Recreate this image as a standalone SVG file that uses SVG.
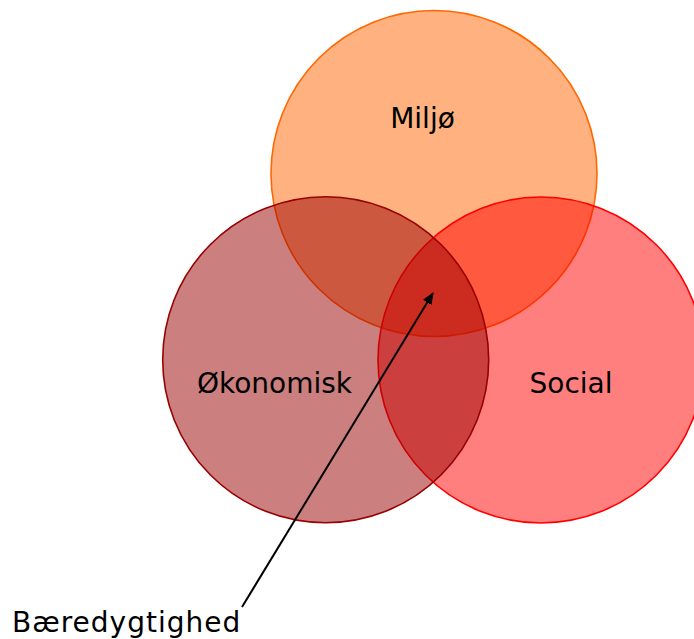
<svg xmlns="http://www.w3.org/2000/svg" width="694" height="639" viewBox="0 0 694 639">
<defs>
<style>
.lbl{font-family:"DejaVu Sans","Verdana",sans-serif;font-size:28px;fill:#000}
.c{stroke-width:1.6}
</style>
<marker id="ah" markerWidth="12" markerHeight="10" refX="11" refY="5" orient="auto" markerUnits="userSpaceOnUse">
<path d="M0,0 L12,5 L0,10 Z" fill="#000"/>
</marker>
</defs>
<rect width="694" height="639" fill="#fff"/>
<g id="miljo">
<circle class="c" cx="434" cy="173.5" r="163" fill="#FF6600" fill-opacity="0.5" stroke="#FF6600"/>
<text class="lbl" x="422.5" y="128" text-anchor="middle">Miljø</text>
</g>
<g id="social">
<circle class="c" cx="541" cy="360" r="163" fill="#FF0000" fill-opacity="0.5" stroke="#FF0000"/>
<text class="lbl" x="571" y="392.5" text-anchor="middle" font-size="27.5">Social</text>
</g>
<g id="okonomisk">
<circle class="c" cx="325.7" cy="359.7" r="163" fill="#990000" fill-opacity="0.5" stroke="#990000"/>
<text class="lbl" x="274.5" y="392.5" text-anchor="middle">Økonomisk</text>
</g>
<g id="connectors">
<line x1="242" y1="607" x2="433" y2="293" stroke="#000" stroke-width="2" marker-end="url(#ah)"/>
</g>
<g id="baeredygtighed">
<text class="lbl" x="12" y="632" font-size="26" letter-spacing="1">Bæredygtighed</text>
</g>
</svg>
